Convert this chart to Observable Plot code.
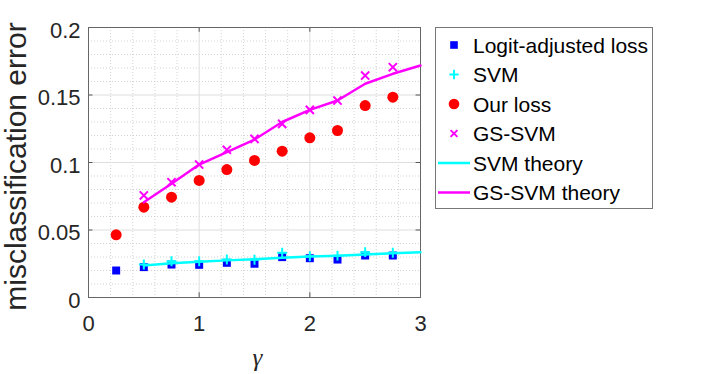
<!DOCTYPE html>
<html>
<head>
<meta charset="utf-8">
<script src="https://cdn.jsdelivr.net/npm/d3@7"></script>
<script src="https://cdn.jsdelivr.net/npm/@observablehq/plot@0.6"></script>
<style>
  html, body { margin: 0; padding: 0; background: #fff; }
  #wrap { position: relative; width: 706px; height: 374px; }
  #legend { position: absolute; left: 0; top: 0; }
</style>
</head>
<body>
<div id="wrap"></div>
<script>
// ---- data ----
const gammaAll = [0.25, 0.5, 0.75, 1, 1.25, 1.5, 1.75, 2, 2.25, 2.5, 2.75];
const logitErr = [0.0200, 0.0225, 0.0244, 0.0242, 0.0257, 0.0250, 0.0299, 0.0291, 0.0281, 0.0311, 0.0311];
const ourErr   = [0.0464, 0.0669, 0.0743, 0.0867, 0.0948, 0.1015, 0.1084, 0.1183, 0.1237, 0.1422, 0.1484];
const gammaSvm = [0.5, 0.75, 1, 1.25, 1.5, 1.75, 2, 2.25, 2.5, 2.75];
const svmErr   = [0.0244, 0.0269, 0.0269, 0.0281, 0.0280, 0.0331, 0.0306, 0.0310, 0.0336, 0.0331];
const gsErr    = [0.0756, 0.0854, 0.0985, 0.1094, 0.1175, 0.1286, 0.1390, 0.1459, 0.1644, 0.1706];
const gammaTheory = [0.5, 0.75, 1, 1.25, 1.5, 1.75, 2, 2.25, 2.5, 2.75, 3];
const svmTheory   = [0.0237, 0.0253, 0.0265, 0.0275, 0.0284, 0.0295, 0.0303, 0.0310, 0.0318, 0.0327, 0.0335];
const gsTheory    = [0.0706, 0.0842, 0.0985, 0.1077, 0.1170, 0.1300, 0.1390, 0.1459, 0.1583, 0.1657, 0.1719];
const xTicks = [0, 1, 2, 3];
const yTicks = [0, 0.05, 0.1, 0.15, 0.2];
const xMinor = [0.2, 0.4, 0.6, 0.8, 1.2, 1.4, 1.6, 1.8, 2.2, 2.4, 2.6, 2.8];
const yMinor = [0.01, 0.02, 0.03, 0.04, 0.06, 0.07, 0.08, 0.09, 0.11, 0.12, 0.13, 0.14, 0.16, 0.17, 0.18, 0.19];
const xMajorGrid = [1, 2];
const yMajorGrid = [0.05, 0.1, 0.15];
const legendNames = ["Logit-adjusted loss", "SVM", "Our loss", "GS-SVM", "SVM theory", "GS-SVM theory"];
const xLabel = "γ";
const yLabel = "misclassification error";

// ---- tables ----
const logitData = gammaAll.map((g, i) => ({g, e: logitErr[i]}));
const ourData = gammaAll.map((g, i) => ({g, e: ourErr[i]}));
const svmData = gammaSvm.map((g, i) => ({g, e: svmErr[i]}));
const gsData = gammaSvm.map((g, i) => ({g, e: gsErr[i]}));
const svmTh = gammaTheory.map((g, i) => ({g, e: svmTheory[i]}));
const gsTh = gammaTheory.map((g, i) => ({g, e: gsTheory[i]}));

const BLUE = "#0000ff", CYAN = "#00ffff", RED = "#ff0000", MAG = "#ff00ff";
const tickLenY = 0.0035, tickLenX = 0.04;

const chart = Plot.plot({
  width: 706,
  height: 374,
  marginLeft: 88,
  marginRight: 286,
  marginTop: 27,
  marginBottom: 77,
  style: {fontFamily: "'Liberation Sans', Arial, sans-serif", fontSize: "22px", color: "#262626", background: "#fff"},
  x: {domain: [0, 3]},
  y: {domain: [0, 0.2]},
  marks: [
    Plot.ruleX(xMinor, {stroke: "#c8c8c8", strokeDasharray: "1,2", strokeWidth: 0.8}),
    Plot.ruleY(yMinor, {stroke: "#c8c8c8", strokeDasharray: "1,2", strokeWidth: 0.8}),
    Plot.ruleX(xMajorGrid, {stroke: "#dedede", strokeWidth: 1}),
    Plot.ruleY(yMajorGrid, {stroke: "#dedede", strokeWidth: 1}),
    // inward ticks
    Plot.ruleX(xMajorGrid, {y1: 0, y2: tickLenY, stroke: "#555"}),
    Plot.ruleX(xMajorGrid, {y1: 0.2, y2: 0.2 - tickLenY, stroke: "#555"}),
    Plot.ruleY(yMajorGrid, {x1: 0, x2: tickLenX, stroke: "#555"}),
    Plot.ruleY(yMajorGrid, {x1: 3, x2: 3 - tickLenX, stroke: "#555"}),
    Plot.frame({stroke: "#666", strokeWidth: 1}),
    Plot.axisX({ticks: xTicks, tickSize: 0, tickPadding: 18, label: null, tickFormat: d => `${d}`}),
    Plot.axisY({ticks: yTicks, tickSize: 0, tickPadding: 8, label: null, dy: 3, tickFormat: d => `${d}`}),
    // data
    Plot.dot(logitData, {x: "g", y: "e", symbol: "square", r: 4.5, fill: BLUE, stroke: "none"}),
    Plot.dot(svmData, {x: "g", y: "e", symbol: "plus", r: 3.3, stroke: CYAN, strokeWidth: 2, fill: "none"}),
    Plot.dot(ourData, {x: "g", y: "e", symbol: "circle", r: 5.5, fill: RED, stroke: "none"}),
    Plot.dot(gsData, {x: "g", y: "e", symbol: "times", r: 3.8, stroke: MAG, strokeWidth: 2, fill: "none"}),
    Plot.line(svmTh, {x: "g", y: "e", stroke: CYAN, strokeWidth: 2.5}),
    Plot.line(gsTh, {x: "g", y: "e", stroke: MAG, strokeWidth: 2.5}),
    // axis labels
    Plot.text([yLabel], {frameAnchor: "left", text: d => d, rotate: -90, dx: -63, dy: 4, lineAnchor: "bottom",
      textAnchor: "middle", fontSize: 30, fill: "#262626"}),
    Plot.text([xLabel], {frameAnchor: "bottom", text: d => d, dx: 3, dy: 68, lineAnchor: "bottom", textAnchor: "middle",
      fontSize: 25, fontStyle: "italic", fontFamily: "'Liberation Serif', 'Times New Roman', serif", fill: "#262626"})
  ]
});

const wrap = document.getElementById("wrap");
wrap.appendChild(chart);

// ---- legend ----
const legendStyles = [
  {type: "square", color: BLUE},
  {type: "plus", color: CYAN},
  {type: "circle", color: RED},
  {type: "times", color: MAG},
  {type: "line", color: CYAN},
  {type: "line", color: MAG}
];
const lg = d3.select(wrap).append("svg")
  .attr("id", "legend").attr("width", 706).attr("height", 374)
  .style("font-family", "'Liberation Sans', Arial, sans-serif");
const boxX = 435.5, boxY = 27.5, boxW = 217, boxH = 181, rowY0 = 45, rowStep = 29.5;
lg.append("rect").attr("x", boxX).attr("y", boxY).attr("width", boxW).attr("height", boxH)
  .attr("fill", "#fff").attr("stroke", "#777").attr("stroke-width", 1);
legendNames.forEach((name, i) => {
  const cy = rowY0 + i * rowStep;
  const st = legendStyles[i];
  const g = lg.append("g");
  if (st.type === "line") {
    g.append("line").attr("x1", 438).attr("x2", 470).attr("y1", cy).attr("y2", cy)
      .attr("stroke", st.color).attr("stroke-width", 2.5);
  } else {
    const map = {square: [d3.symbolSquare, 4.3], plus: [d3.symbolPlus, 3.1], circle: [d3.symbolCircle, 5.3], times: [d3.symbolTimes, 3.2]};
    const [sym, r] = map[st.type];
    const path = d3.symbol(sym, r * r * Math.PI)();
    const filled = st.type === "square" || st.type === "circle";
    g.append("path").attr("d", path).attr("transform", `translate(454,${cy})`)
      .attr("fill", filled ? st.color : "none")
      .attr("stroke", filled ? "none" : st.color).attr("stroke-width", 2);
  }
  g.append("text").attr("x", 473).attr("y", cy).attr("dy", "0.36em")
    .attr("font-size", 21).attr("fill", "#000").text(name);
});
</script>
</body>
</html>
